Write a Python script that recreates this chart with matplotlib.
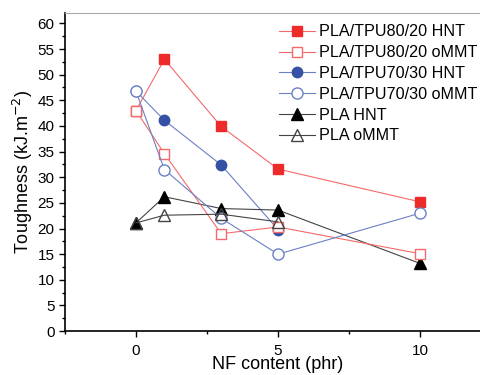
import matplotlib
matplotlib.use("Agg")
import matplotlib.pyplot as plt
from matplotlib.ticker import MultipleLocator

plt.rcParams['font.family'] = ['Liberation Sans', 'DejaVu Sans']

# === Data (toughness, kJ/m2) ===
x_all = [0, 1, 3, 5, 10]
x_short = [0, 1, 3, 5]

tpu80_hnt = [43.0, 53.0, 39.9, 31.6, 25.2]
tpu80_ommt = [43.0, 34.6, 19.0, 20.3, 15.1]
tpu70_hnt = [46.8, 41.1, 32.4, 19.8]
tpu70_ommt = [46.8, 31.5, 22.0, 15.0, 23.0]
pla_hnt = [21.1, 26.2, 23.9, 23.6, 13.2]
pla_ommt = [21.1, 22.6, 22.8, 21.3]

red = '#ee2b2b'
red_line = '#f46a6a'
blue = '#3451a3'
blue_line = '#6b80c4'
black = '#000000'
black_line = '#444444'

fig = plt.figure(figsize=(4.81, 3.75), dpi=100)
ax = fig.add_axes([0.135, 0.117, 0.886, 0.848])

ms = 7
lw = 0.8
ax.plot(x_all, tpu80_hnt, '-s', color=red_line, mfc=red, mec=red, ms=ms, lw=lw,
        label='PLA/TPU80/20 HNT', zorder=3)
ax.plot(x_all, tpu80_ommt, '-s', color=red_line, mfc='white', mec=red_line, ms=ms, lw=lw,
        label='PLA/TPU80/20 oMMT', zorder=4)
ax.plot(x_short, tpu70_hnt, '-o', color=blue_line, mfc=blue, mec=blue, ms=ms + 0.5, lw=lw,
        label='PLA/TPU70/30 HNT', zorder=3)
ax.plot(x_all, tpu70_ommt, '-o', color=blue_line, mfc='white', mec=blue_line, ms=ms + 1, lw=lw,
        label='PLA/TPU70/30 oMMT', zorder=4)
ax.plot(x_all, pla_hnt, '-^', color=black_line, mfc=black, mec=black, ms=ms + 1, lw=lw,
        label='PLA HNT', zorder=3)
ax.plot(x_short, pla_ommt, '-^', color=black_line, mfc='none', mec=black_line, ms=ms + 1, lw=lw,
        label='PLA oMMT', zorder=4)

ax.set_xlim(-2.5, 12.5)
ax.set_ylim(0, 62)
ax.xaxis.set_major_locator(MultipleLocator(5))
ax.xaxis.set_minor_locator(MultipleLocator(2.5))
ax.yaxis.set_major_locator(MultipleLocator(5))
ax.yaxis.set_minor_locator(MultipleLocator(2.5))
ax.tick_params(which='both', direction='out', labelsize=11, width=1.0)
ax.tick_params(which='major', length=4)
ax.tick_params(which='minor', length=2.5)
ax.tick_params(axis='x', pad=5)

ax.spines['right'].set_visible(False)
ax.spines['top'].set_color('#aaaaaa')
ax.spines['left'].set_linewidth(1.2)
ax.spines['bottom'].set_linewidth(1.2)

ax.set_xlabel('NF content (phr)', fontsize=13, labelpad=-1)
ax.set_ylabel('Toughness (kJ.m$^{-2}$)', fontsize=13, labelpad=2)

ax.legend(loc='upper left', bbox_to_anchor=(0.48, 0.995), frameon=False, fontsize=11.6,
          handlelength=2.2, handletextpad=0.3, labelspacing=0.36, borderaxespad=0.2)

fig.savefig('out.png', dpi=100)
